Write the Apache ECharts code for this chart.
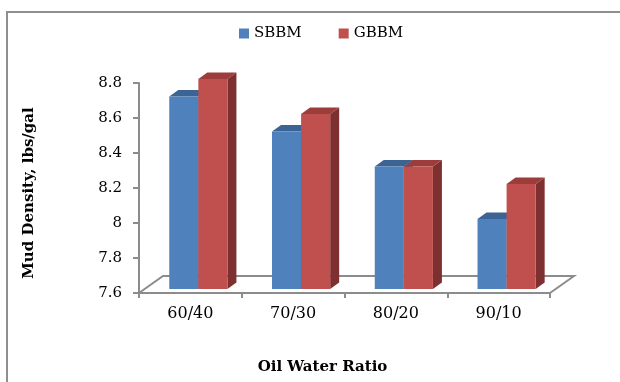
<!DOCTYPE html>
<html>
<head>
<meta charset="utf-8">
<script src="https://cdn.jsdelivr.net/npm/echarts@6/dist/echarts.min.js"></script>
<style>
  html, body { margin: 0; padding: 0; background: #fff; overflow: hidden; }
  #chart { width: 620px; height: 382px; }
</style>
</head>
<body>
<div id="chart"></div>
<script>
// Oil/water ratio categories and mud densities (lbs/gal)
const categories = ['60/40', '70/30', '80/20', '90/10'];
const sbbm = [8.7, 8.5, 8.3, 8.0];
const gbbm = [8.8, 8.6, 8.3, 8.2];
const yMin = 7.6, yMax = 8.8, yStep = 0.2;

const SERIF = '"DejaVu Serif", "Liberation Serif", serif';
const GRID_GREY = '#8c8c8c';

// Face colours for the pseudo-3D columns: front, top, side
const faces = [
  { front: '#4f81bd', top: '#3b6494', side: '#2f5079' },
  { front: '#c0504d', top: '#9c3d3b', side: '#7d302f' }
];

// Perspective offsets
const BAR_SHIFT = [5.6, -4];   // columns sit slightly behind the front edge of the floor
const BAR_DEPTH = [9, -6.5];   // column depth
const FLOOR_DEPTH = [24, -17]; // floor depth

function columnRenderer(s) {
  return function (params, api) {
    const cat = api.value(0);
    const v = api.value(1);
    const base = api.coord([cat, yMin]);
    const top = api.coord([cat, v]);
    const band = api.size([1, 0])[0];
    const w = band * 0.283;
    const x0 = base[0] - band / 2 + band * 0.24 + s * w + BAR_SHIFT[0];
    const yb = base[1] + BAR_SHIFT[1];
    const yt = top[1] + BAR_SHIFT[1];
    const dx = BAR_DEPTH[0], dy = BAR_DEPTH[1];
    const f = faces[s];
    return {
      type: 'group',
      children: [
        { type: 'polygon', shape: { points: [[x0 + w, yt], [x0 + w + dx, yt + dy], [x0 + w + dx, yb + dy], [x0 + w, yb]] },
          style: { fill: f.side } },
        { type: 'polygon', shape: { points: [[x0, yt], [x0 + w, yt], [x0 + w + dx, yt + dy], [x0 + dx, yt + dy]] },
          style: { fill: f.top } },
        { type: 'rect', shape: { x: x0, y: yt, width: w, height: yb - yt },
          style: { fill: f.front } }
      ]
    };
  };
}

function floorRenderer(params, api) {
  const band = api.size([1, 0])[0];
  const l = api.coord([0, yMin]);
  const r = api.coord([categories.length - 1, yMin]);
  const x0 = l[0] - band / 2, x1 = r[0] + band / 2, y = l[1];
  const dx = FLOOR_DEPTH[0], dy = FLOOR_DEPTH[1];
  return {
    type: 'polyline',
    shape: { points: [[x0, y], [x0 + dx, y + dy], [x1 + dx, y + dy], [x1, y]] },
    style: { stroke: GRID_GREY, lineWidth: 2, fill: null }
  };
}

const chart = echarts.init(document.getElementById('chart'), null, { renderer: 'canvas' });
chart.setOption({
  animation: false,
  backgroundColor: '#ffffff',
  graphic: [
    // chart-area frame: left and top edges (the rest runs off the page)
    { type: 'line', silent: true,
      shape: { x1: 7, y1: 12, x2: 7, y2: 382 },
      style: { stroke: '#8f8f8f', lineWidth: 2 } },
    { type: 'line', silent: true,
      shape: { x1: 6, y1: 12, x2: 620, y2: 12 },
      style: { stroke: '#8f8f8f', lineWidth: 2 } }
  ],
  legend: {
    data: ['SBBM', 'GBBM'],
    left: 234, top: 21,
    icon: 'rect', itemWidth: 10, itemHeight: 10, itemGap: 37,
    textStyle: { fontFamily: SERIF, fontSize: 15, color: '#000' }
  },
  grid: { left: 139, right: 70, top: 83, bottom: 89 },
  xAxis: {
    type: 'category',
    data: categories,
    boundaryGap: true,
    axisLine: { lineStyle: { color: GRID_GREY, width: 2 } },
    axisTick: { show: true, length: 5, lineStyle: { color: GRID_GREY, width: 2 } },
    axisLabel: { margin: 13, fontFamily: SERIF, fontSize: 16, color: '#000' },
    name: 'Oil Water Ratio',
    nameLocation: 'middle',
    nameGap: 67,
    nameTextStyle: { fontFamily: SERIF, fontSize: 15, fontWeight: 'bold', color: '#000', padding: [0, 44, 0, 0] }
  },
  yAxis: {
    type: 'value',
    min: yMin, max: yMax, interval: yStep,
    axisLine: { show: true, lineStyle: { color: GRID_GREY, width: 2 } },
    axisTick: { show: true, length: 6, lineStyle: { color: GRID_GREY, width: 2 } },
    splitLine: { show: false },
    axisLabel: { margin: 17, fontFamily: SERIF, fontSize: 15, color: '#000', padding: [10, 0, 0, 0] },
    name: 'Mud Density, lbs/gal',
    nameLocation: 'middle',
    nameRotate: 90,
    nameGap: 102,
    nameTextStyle: { fontFamily: SERIF, fontSize: 15, fontWeight: 'bold', color: '#000', padding: [0, 10, 0, 0] }
  },
  series: [
    { type: 'custom', name: 'floor', silent: true, z: 1,
      itemStyle: { color: GRID_GREY },
      data: [[0, yMin]], renderItem: floorRenderer },
    { type: 'custom', name: 'SBBM', z: 2,
      itemStyle: { color: faces[0].front },
      data: sbbm.map((v, i) => [i, v]), renderItem: columnRenderer(0) },
    { type: 'custom', name: 'GBBM', z: 3,
      itemStyle: { color: faces[1].front },
      data: gbbm.map((v, i) => [i, v]), renderItem: columnRenderer(1) }
  ]
});
</script>
</body>
</html>
